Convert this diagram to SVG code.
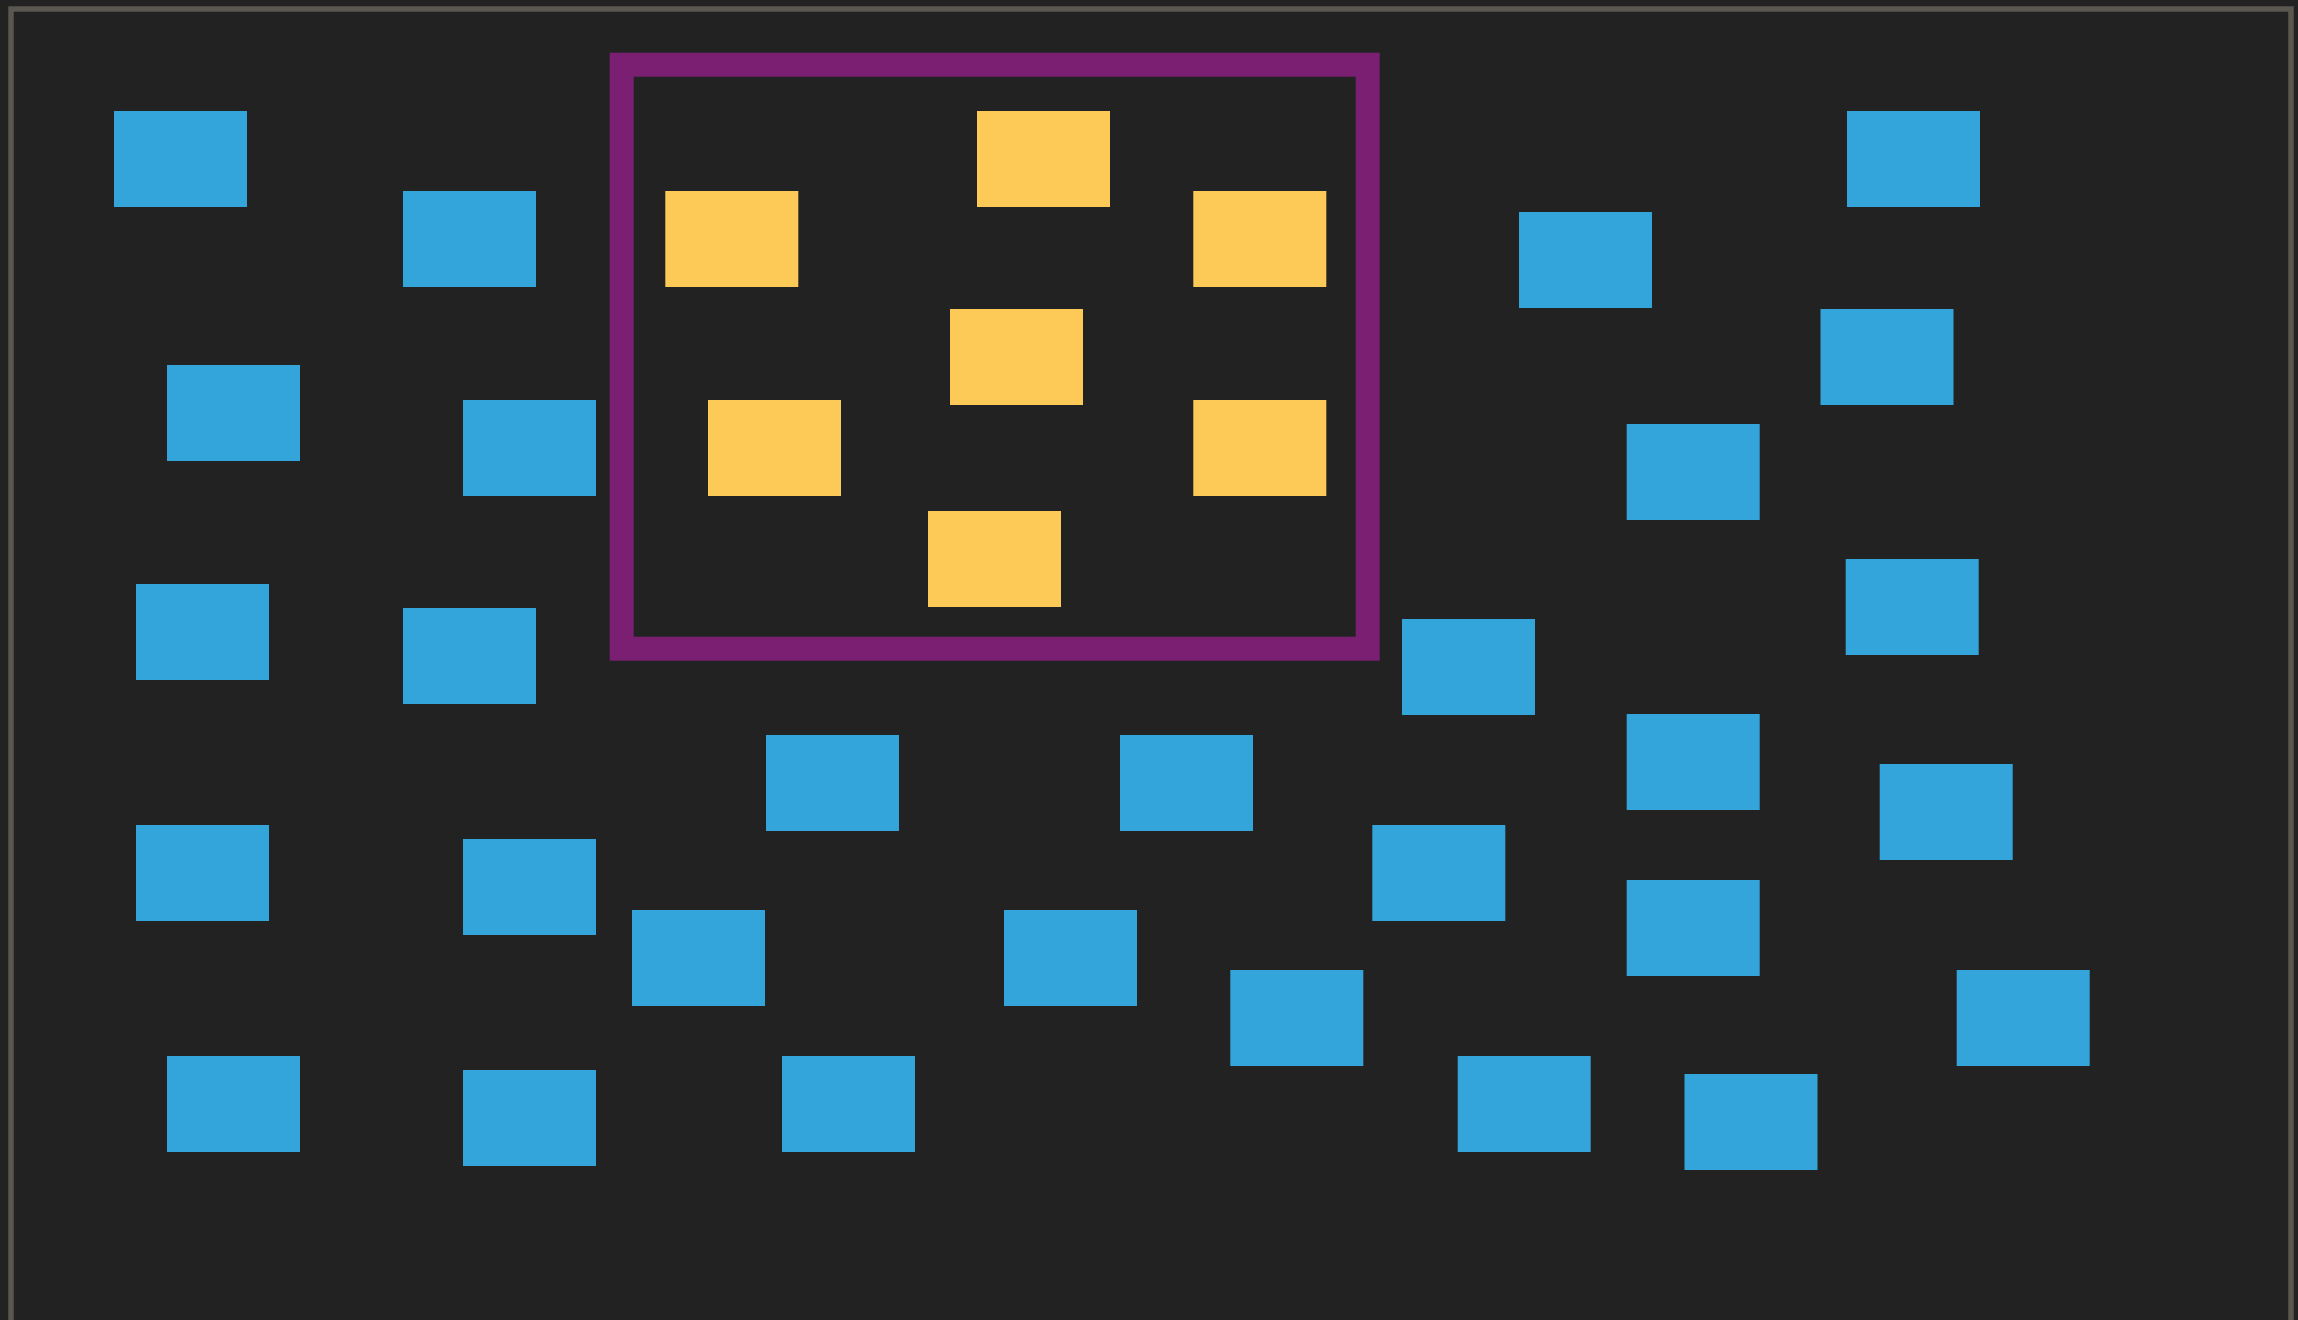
<svg xmlns="http://www.w3.org/2000/svg" width="2298" height="1320" viewBox="0 0 2298 1320">
<style>
.b{fill:#34a5db}
.y{fill:#fdca58}
</style>
<rect x="0" y="0" width="2298" height="1320" fill="#222222"/>
<rect x="11" y="9" width="2280" height="1330" fill="none" stroke="#5a5650" stroke-width="5.5"/>
<g id="frame"><rect x="621.7" y="64.7" width="746" height="584" fill="none" stroke="#7a1f72" stroke-width="24"/></g>
<g id="nodes">
<rect id="b1" class="b" x="114" y="111" width="133" height="96"/>
<rect id="b2" class="b" x="403" y="191" width="133" height="96"/>
<rect id="b3" class="b" x="167" y="365" width="133" height="96"/>
<rect id="b4" class="b" x="463" y="400" width="133" height="96"/>
<rect id="b5" class="b" x="136" y="584" width="133" height="96"/>
<rect id="b6" class="b" x="403" y="608" width="133" height="96"/>
<rect id="b7" class="b" x="766" y="735" width="133" height="96"/>
<rect id="b8" class="b" x="1120" y="735" width="133" height="96"/>
<rect id="b9" class="b" x="1402" y="619" width="133" height="96"/>
<rect id="b10" class="b" x="1519" y="212" width="133" height="96"/>
<rect id="b11" class="b" x="1847" y="111" width="133" height="96"/>
<rect id="b12" class="b" x="1820.5" y="309" width="133" height="96"/>
<rect id="b13" class="b" x="1626.7" y="424" width="133" height="96"/>
<rect id="b14" class="b" x="1845.7" y="559" width="133" height="96"/>
<rect id="b15" class="b" x="1626.7" y="714" width="133" height="96"/>
<rect id="b16" class="b" x="1879.7" y="764" width="133" height="96"/>
<rect id="b17" class="b" x="136" y="825" width="133" height="96"/>
<rect id="b18" class="b" x="463" y="839" width="133" height="96"/>
<rect id="b19" class="b" x="632" y="910" width="133" height="96"/>
<rect id="b20" class="b" x="1004" y="910" width="133" height="96"/>
<rect id="b21" class="b" x="1372.3" y="825" width="133" height="96"/>
<rect id="b22" class="b" x="1626.7" y="880" width="133" height="96"/>
<rect id="b23" class="b" x="1230.3" y="970" width="133" height="96"/>
<rect id="b24" class="b" x="1956.7" y="970" width="133" height="96"/>
<rect id="b25" class="b" x="167" y="1056" width="133" height="96"/>
<rect id="b26" class="b" x="463" y="1070" width="133" height="96"/>
<rect id="b27" class="b" x="782" y="1056" width="133" height="96"/>
<rect id="b28" class="b" x="1457.7" y="1056" width="133" height="96"/>
<rect id="b29" class="b" x="1684.5" y="1074" width="133" height="96"/>
<rect id="y1" class="y" x="665.3" y="191" width="133" height="96"/>
<rect id="y2" class="y" x="977" y="111" width="133" height="96"/>
<rect id="y3" class="y" x="1193.3" y="191" width="133" height="96"/>
<rect id="y4" class="y" x="950" y="309" width="133" height="96"/>
<rect id="y5" class="y" x="708" y="400" width="133" height="96"/>
<rect id="y6" class="y" x="1193.3" y="400" width="133" height="96"/>
<rect id="y7" class="y" x="928" y="511" width="133" height="96"/>
</g>
<g id="connectors"></g>
</svg>
